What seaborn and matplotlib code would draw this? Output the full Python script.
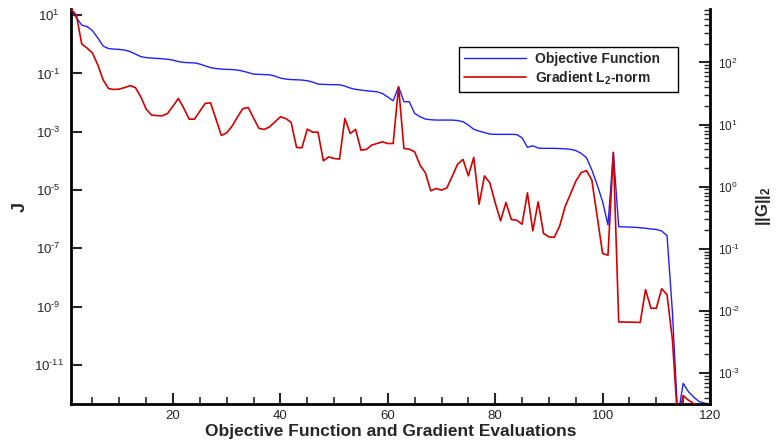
import numpy as np
import pandas as pd
import matplotlib
matplotlib.use("Agg")
import matplotlib.pyplot as plt
import seaborn as sns
from matplotlib.ticker import (FixedLocator, LogLocator, MultipleLocator, NullFormatter,
                               NullLocator, FuncFormatter)
from matplotlib.lines import Line2D

# ---------------- data ----------------
evals = list(range(1, 121))

objective_J = [
    14.8, 8.20, 4.54, 4.04, 2.94, 1.63, 0.865, 0.711, 0.682, 0.667,
    0.631, 0.561, 0.460, 0.378, 0.349, 0.336, 0.328, 0.318, 0.305, 0.286,
    0.255, 0.239, 0.233, 0.230, 0.209, 0.181, 0.158, 0.147, 0.141, 0.137,
    0.136, 0.130, 0.120, 0.107, 0.0948, 0.0927, 0.0912, 0.0897, 0.0811, 0.0692,
    0.0640, 0.0615, 0.0605, 0.0592, 0.0560, 0.0505, 0.0432, 0.0421, 0.0414, 0.0411,
    0.0408, 0.0368, 0.0314, 0.0284, 0.0269, 0.0254, 0.0244, 0.0234, 0.0204, 0.0155,
    0.0115, 0.0348, 0.0107, 0.0107, 4.27e-3, 3.27e-3, 2.72e-3, 2.58e-3, 2.51e-3, 2.51e-3,
    2.51e-3, 2.51e-3, 2.42e-3, 2.20e-3, 1.69e-3, 1.21e-3, 1.05e-3, 9.38e-4, 8.32e-4, 8.13e-4,
    8.13e-4, 8.13e-4, 8.13e-4, 8.00e-4, 6.22e-4, 2.92e-4, 3.30e-4, 2.75e-4, 2.69e-4, 2.69e-4,
    2.69e-4, 2.65e-4, 2.59e-4, 2.49e-4, 2.26e-4, 1.82e-4, 1.28e-4, 4.85e-5, 1.49e-5, 3.98e-6,
    6.32e-7, 1.96e-4, 5.52e-7, 5.43e-7, 5.36e-7, 5.27e-7, 5.07e-7, 4.88e-7, 4.61e-7, 4.44e-7,
    3.94e-7, 2.72e-7, 6.56e-10, 1.6e-13, 2.34e-12, 1.20e-12, 7.76e-13, 5.50e-13, 4.90e-13, 4.47e-13,
]

gradient_norm = [
    724, 578, 197, 170, 141, 90.6, 51.9, 37.8, 36.7, 37.2,
    39.3, 42.3, 39.3, 27.9, 17.7, 14.2, 13.9, 13.8, 15.1, 19.8,
    26.3, 18.4, 12.2, 12.2, 16.4, 21.9, 22.3, 12.2, 6.67, 7.35,
    9.42, 13.2, 18.0, 18.8, 12.7, 8.65, 8.34, 9.18, 11.1, 13.3,
    12.5, 10.8, 4.28, 4.21, 8.43, 7.53, 7.53, 2.60, 3.01, 2.84,
    2.77, 12.5, 7.18, 8.34, 3.86, 3.97, 4.66, 4.95, 5.26, 4.95,
    4.95, 40.5, 4.12, 4.01, 3.63, 2.22, 1.67, 0.855, 0.933, 0.877,
    0.955, 1.47, 2.30, 2.74, 1.49, 2.95, 0.521, 1.49, 1.15, 0.547,
    0.281, 0.556, 0.296, 0.288, 0.248, 0.794, 0.194, 0.568, 0.176, 0.155,
    0.153, 0.231, 0.472, 0.757, 1.22, 1.68, 1.81, 1.27, 0.326, 0.0838,
    0.0787, 3.55, 6.62e-3, 6.60e-3, 6.58e-3, 6.55e-3, 6.49e-3, 0.0220, 0.0110, 0.0110,
    0.0227, 0.0182, 3.44e-3, 1.58e-4, 4.33e-4, 3.63e-4, 3.21e-4, 2.5e-4, 2.0e-4, 2.0e-4,
]

series_labels = ["Objective Function", r"Gradient L$_\mathbf{2}$-norm"]
left_ticks = [1e1, 1e-1, 1e-3, 1e-5, 1e-7, 1e-9, 1e-11]

# ---------------- style ----------------
sns.set_style("white")
plt.rcParams['font.family'] = ['Liberation Sans', 'DejaVu Sans']
plt.rcParams['mathtext.fontset'] = 'custom'
plt.rcParams['mathtext.rm'] = 'Liberation Sans'
plt.rcParams['mathtext.it'] = 'Liberation Sans:italic'
plt.rcParams['mathtext.bf'] = 'Liberation Sans:bold'
plt.rcParams['mathtext.default'] = 'regular'
plt.rcParams['axes.unicode_minus'] = False


def pow10_label(v, pos):
    if v <= 0:
        return ''
    e = int(round(np.log10(v)))
    if e < 0:
        return r'10$^{\text{-}%d}$' % (-e)
    return r'10$^{%d}$' % e


df = pd.DataFrame({'Evaluation': evals, 'J': objective_J, 'G': gradient_norm})

fig = plt.figure(figsize=(7.78, 4.41), dpi=100)
W, H = 778.0, 441.0
ax = fig.add_axes([71 / W, 1 - 404 / H, (710 - 71) / W, (404 - 9) / H])
ax2 = ax.twinx()

blue = '#2020ff'
red = '#d40000'
sns.lineplot(data=df, x='Evaluation', y='J', ax=ax, color=blue, linewidth=1.0)
sns.lineplot(data=df, x='Evaluation', y='G', ax=ax2, color=red, linewidth=1.2)

ax.set_yscale('log')
ax2.set_yscale('log')
ax.set_xlim(1, 120)
ax.set_ylim(10 ** -12.34, 10 ** 1.21)
ax2.set_ylim(10 ** -3.5, 10 ** 2.86)
ax2.set_xlabel('')
ax2.xaxis.label.set_visible(False)
ax.xaxis.get_offset_text().set_visible(False)
ax2.xaxis.get_offset_text().set_visible(False)

for a in (ax, ax2):
    a.set_facecolor('none')
    a.spines['top'].set_visible(False)
    for s in ('left', 'right', 'bottom'):
        a.spines[s].set_linewidth(2.0)
        a.spines[s].set_color('black')
ax.spines['right'].set_visible(False)
ax2.spines['left'].set_visible(False)
ax2.spines['bottom'].set_visible(False)

# x ticks
ax.xaxis.set_major_locator(MultipleLocator(20))
ax.xaxis.set_minor_locator(MultipleLocator(5))
ax.tick_params(axis='x', which='major', direction='in', length=8, width=1.5,
               labelsize=9.5, pad=4.5, top=False, bottom=True)
ax.tick_params(axis='x', which='minor', direction='in', length=5, width=1.2,
               top=False, bottom=True)

# left y ticks
ax.yaxis.set_major_locator(FixedLocator(left_ticks))
ax.yaxis.set_major_formatter(FuncFormatter(pow10_label))
ax.yaxis.set_minor_locator(NullLocator())
ax.tick_params(axis='y', which='major', direction='in', length=8, width=1.5,
               labelsize=9.5, pad=16, left=True, right=False)
for lab in ax.get_yticklabels():
    lab.set_horizontalalignment('center')

# right y ticks
ax2.yaxis.set_major_locator(LogLocator(base=10, numticks=20))
ax2.yaxis.set_major_formatter(FuncFormatter(pow10_label))
ax2.yaxis.set_minor_locator(LogLocator(base=10, subs=np.arange(2, 10), numticks=20))
ax2.yaxis.set_minor_formatter(NullFormatter())
ax2.tick_params(axis='y', which='major', direction='in', length=8, width=1.5,
                labelsize=8.5, pad=6, right=True, left=False)
ax2.tick_params(axis='y', which='minor', direction='in', length=4.5, width=1.0,
                right=True, left=False)

ax.set_xlabel('Objective Function and Gradient Evaluations', fontsize=12.5,
              fontweight='bold', labelpad=1)
ax.set_ylabel('J', fontsize=13, fontweight='bold', labelpad=4)
ax2.set_ylabel(r'||G||$_\mathbf{2}$', fontsize=12, fontweight='bold', labelpad=10)

handles = [Line2D([], [], color=blue, lw=1.0), Line2D([], [], color=red, lw=1.2)]
leg = ax2.legend(handles, series_labels, loc='upper left',
                 bbox_to_anchor=(459 / W, 1 - 94 / H, 219 / W, 47 / H),
                 bbox_transform=fig.transFigure, mode='expand', borderaxespad=0,
                 prop={'weight': 'bold', 'size': 10}, frameon=True, fancybox=False,
                 framealpha=1, edgecolor='black', handlelength=4.5,
                 handletextpad=0.6, labelspacing=0.25, borderpad=0.35)
leg.get_frame().set_linewidth(1.0)

fig.savefig('out.png', dpi=100)
